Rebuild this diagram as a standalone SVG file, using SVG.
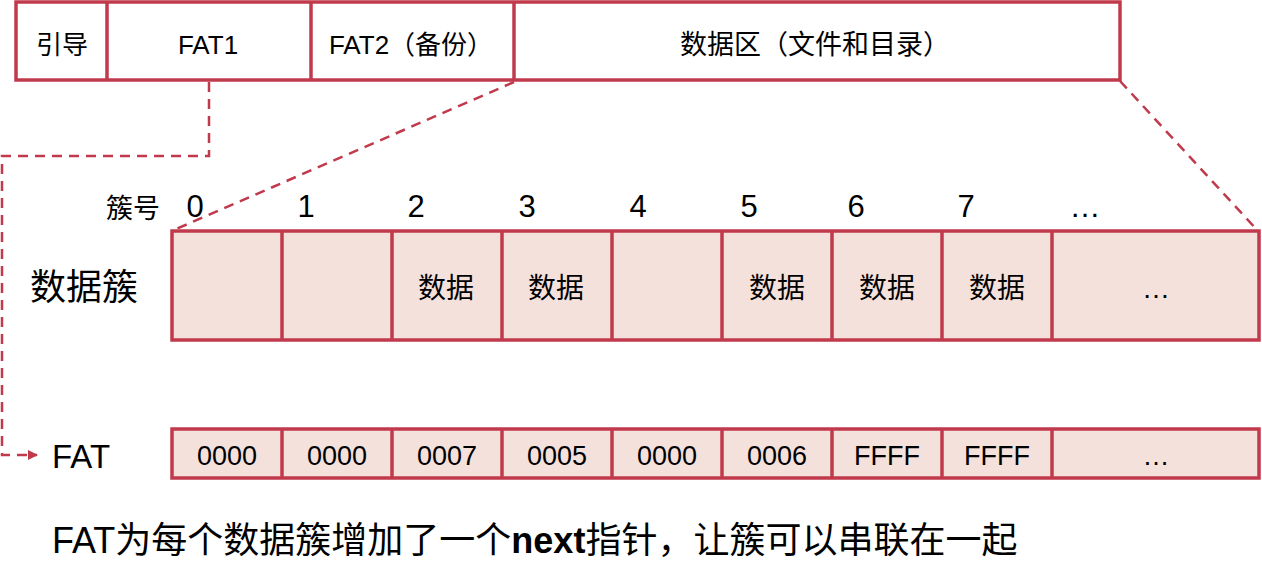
<svg xmlns="http://www.w3.org/2000/svg" width="1262" height="584" viewBox="0 0 1262 584">
<defs>
<style>
.box{fill:#fff;stroke:#c13a4c;stroke-width:3.5}
.cell{fill:#f5e1dc;stroke:#c13a4c;stroke-width:3.5}
.dash{fill:none;stroke:#c13a4c;stroke-width:2.5;stroke-dasharray:10,7}
text{font-family:"Liberation Sans","Noto Sans CJK SC",sans-serif;fill:#000}
.t{font-size:26px;text-anchor:middle}
.n{font-size:31px;text-anchor:middle}
.c{font-size:28px;text-anchor:middle}
.f{font-size:27px;text-anchor:middle}
</style>
<marker id="ah" markerWidth="10" markerHeight="10" refX="9" refY="5" orient="auto" markerUnits="userSpaceOnUse">
<path d="M0,0 L10,5 L0,10 Z" fill="#c13a4c"/>
</marker>
</defs>
<g id="connectors">
<path class="dash" d="M209,82 V156 H2 V455 H37" marker-end="url(#ah)"/>
<path class="dash" d="M514,82 L174,230"/>
<path class="dash" d="M1120,81 L1258,231"/>
</g>
<g id="top-bar">
<rect class="box" x="16" y="2" width="1104" height="78"/>
<line class="box" x1="107" y1="2" x2="107" y2="80"/>
<line class="box" x1="311" y1="2" x2="311" y2="80"/>
<line class="box" x1="514" y1="2" x2="514" y2="80"/>
<text class="t" x="62" y="54">引导</text>
<text class="t" x="208" y="54">FAT1</text>
<text class="t" x="411" y="54">FAT2（备份）</text>
<text class="t" x="815" y="54" style="font-size:27px">数据区（文件和目录）</text>
</g>
<g id="cluster-numbers">
<text x="106" y="218" style="font-size:27px">簇号</text>
<text class="n" x="195" y="217">0</text>
<text class="n" x="306" y="217">1</text>
<text class="n" x="416" y="217">2</text>
<text class="n" x="527" y="217">3</text>
<text class="n" x="638" y="217">4</text>
<text class="n" x="749" y="217">5</text>
<text class="n" x="856" y="217">6</text>
<text class="n" x="966" y="217">7</text>
<text class="n" x="1085" y="217">…</text>
</g>
<g id="data-clusters">
<text x="30" y="300" style="font-size:36px">数据簇</text>
<rect class="cell" x="172" y="231" width="1087" height="109"/>
<line class="cell" x1="282" y1="231" x2="282" y2="340"/>
<line class="cell" x1="392" y1="231" x2="392" y2="340"/>
<line class="cell" x1="502" y1="231" x2="502" y2="340"/>
<line class="cell" x1="612" y1="231" x2="612" y2="340"/>
<line class="cell" x1="722" y1="231" x2="722" y2="340"/>
<line class="cell" x1="832" y1="231" x2="832" y2="340"/>
<line class="cell" x1="942" y1="231" x2="942" y2="340"/>
<line class="cell" x1="1052" y1="231" x2="1052" y2="340"/>
<text class="c" x="446" y="298">数据</text>
<text class="c" x="556" y="298">数据</text>
<text class="c" x="777" y="298">数据</text>
<text class="c" x="887" y="298">数据</text>
<text class="c" x="997" y="298">数据</text>
<text class="c" x="1156" y="298">…</text>
</g>
<g id="fat-table">
<text x="52" y="468" style="font-size:33px">FAT</text>
<rect class="cell" x="172" y="429" width="1087" height="49"/>
<line class="cell" x1="282" y1="429" x2="282" y2="478"/>
<line class="cell" x1="392" y1="429" x2="392" y2="478"/>
<line class="cell" x1="502" y1="429" x2="502" y2="478"/>
<line class="cell" x1="612" y1="429" x2="612" y2="478"/>
<line class="cell" x1="722" y1="429" x2="722" y2="478"/>
<line class="cell" x1="832" y1="429" x2="832" y2="478"/>
<line class="cell" x1="942" y1="429" x2="942" y2="478"/>
<line class="cell" x1="1052" y1="429" x2="1052" y2="478"/>
<text class="f" x="227" y="465">0000</text>
<text class="f" x="337" y="465">0000</text>
<text class="f" x="447" y="465">0007</text>
<text class="f" x="557" y="465">0005</text>
<text class="f" x="667" y="465">0000</text>
<text class="f" x="777" y="465">0006</text>
<text class="f" x="887" y="465">FFFF</text>
<text class="f" x="997" y="465">FFFF</text>
<text class="f" x="1156" y="465">…</text>
</g>
<g id="caption">
<text x="52" y="553" style="font-size:36px">FAT为每个数据簇增加了一个<tspan font-weight="bold">next</tspan>指针，让簇可以串联在一起</text>
</g>
</svg>
